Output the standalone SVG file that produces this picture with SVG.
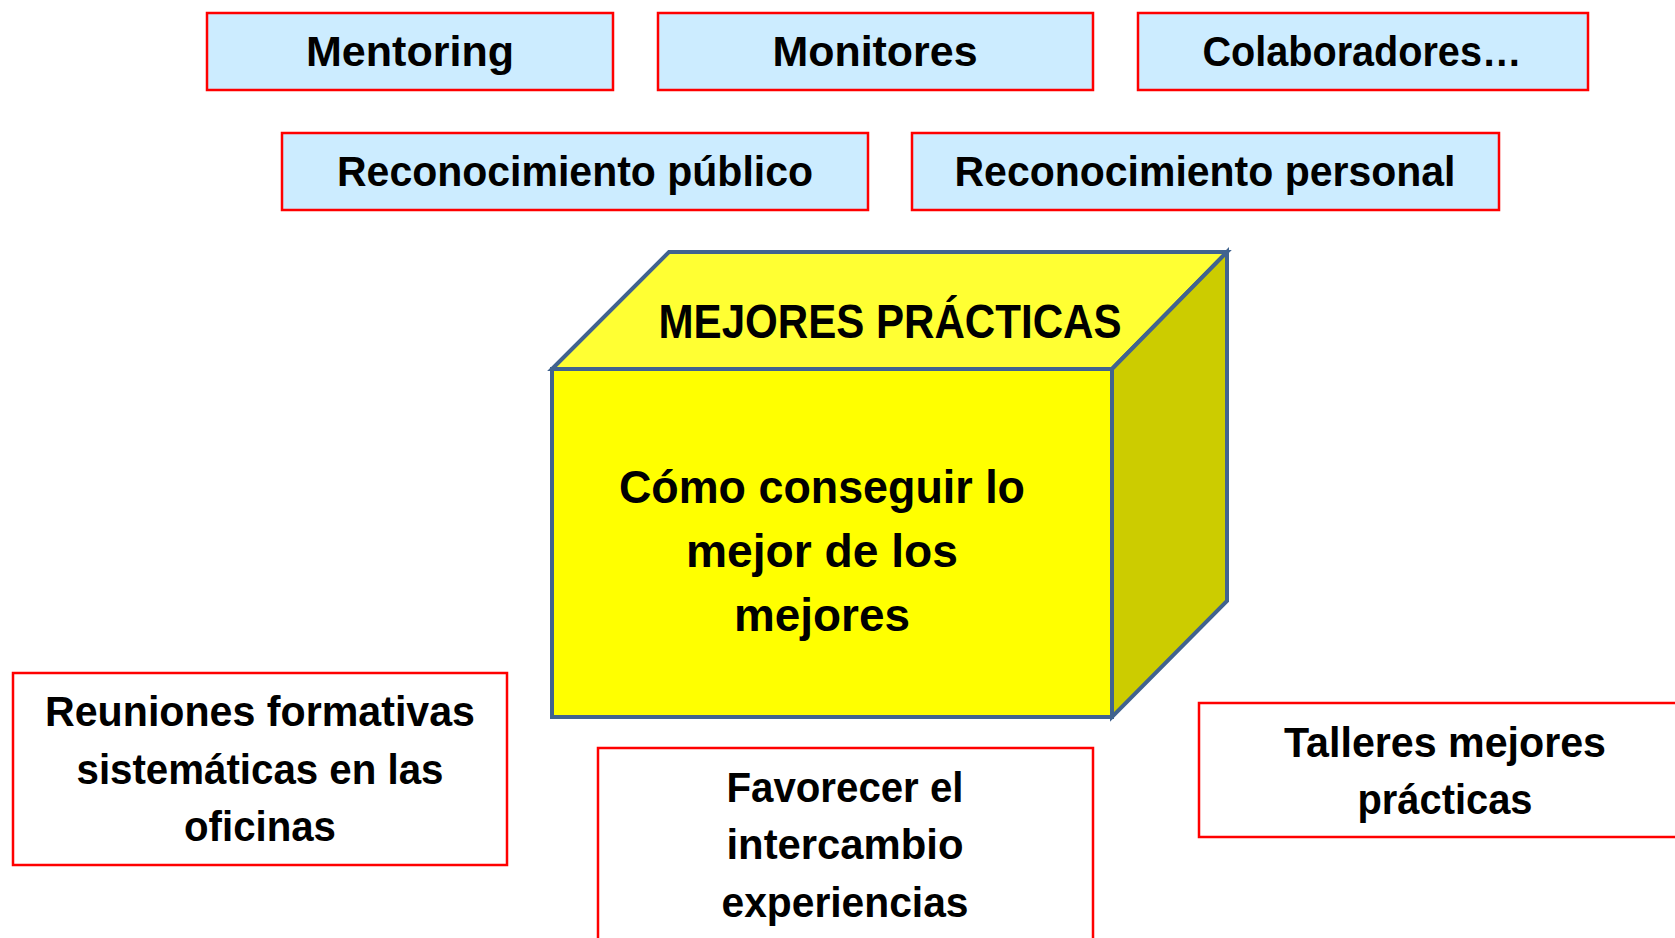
<svg xmlns="http://www.w3.org/2000/svg" width="1675" height="938" viewBox="0 0 1675 938">
<style>
.box{fill:#CCECFF;stroke:#FF0000;stroke-width:2.5}
.wbox{fill:#FFFFFF;stroke:#FF0000;stroke-width:2.5}
.t{font-family:"Liberation Sans",Arial,sans-serif;font-weight:bold;fill:#000;text-anchor:middle}
.s43{font-size:43px}
.cube{stroke:#41638F;stroke-width:4;stroke-linejoin:miter}
</style>
<rect width="1675" height="938" fill="#FFFFFF"/>
<g id="mentoring"><rect class="box" x="207" y="13" width="406" height="77"/><text class="t s43" x="410" y="66" textLength="208" lengthAdjust="spacingAndGlyphs">Mentoring</text></g>
<g id="monitores"><rect class="box" x="658" y="13" width="435" height="77"/><text class="t s43" x="875" y="66" textLength="205" lengthAdjust="spacingAndGlyphs">Monitores</text></g>
<g id="colaboradores"><rect class="box" x="1138" y="13" width="450" height="77"/><text class="t s43" x="1362" y="66" textLength="319" lengthAdjust="spacingAndGlyphs">Colaboradores…</text></g>
<g id="rec-publico"><rect class="box" x="282" y="133" width="586" height="77"/><text class="t s43" x="575" y="186" textLength="476" lengthAdjust="spacingAndGlyphs">Reconocimiento público</text></g>
<g id="rec-personal"><rect class="box" x="912" y="133" width="587" height="77"/><text class="t s43" x="1205" y="186" textLength="501" lengthAdjust="spacingAndGlyphs">Reconocimiento personal</text></g>
<g id="cube">
<polygon class="cube" fill="#FFFF33" points="552,369 669,252 1227,252 1112,369"/>
<polygon class="cube" fill="#CCCC00" points="1112,369 1227,252 1227,601 1112,717"/>
<rect class="cube" fill="#FFFF00" x="552" y="369" width="560" height="348"/>
<text class="t" font-size="48" x="890" y="338" textLength="463" lengthAdjust="spacingAndGlyphs">MEJORES PRÁCTICAS</text>
<text class="t" font-size="46" x="822" y="503" textLength="406" lengthAdjust="spacingAndGlyphs">Cómo conseguir lo</text>
<text class="t" font-size="46" x="822" y="567" textLength="272" lengthAdjust="spacingAndGlyphs">mejor de los</text>
<text class="t" font-size="46" x="822" y="631" textLength="176" lengthAdjust="spacingAndGlyphs">mejores</text>
</g>
<g id="reuniones"><rect class="wbox" x="13" y="673" width="494" height="192"/>
<text class="t s43" x="260" y="726" textLength="430" lengthAdjust="spacingAndGlyphs">Reuniones formativas</text>
<text class="t s43" x="260" y="784" textLength="367" lengthAdjust="spacingAndGlyphs">sistemáticas en las</text>
<text class="t s43" x="260" y="841" textLength="152" lengthAdjust="spacingAndGlyphs">oficinas</text></g>
<g id="favorecer"><rect class="wbox" x="598" y="748" width="495" height="200"/>
<text class="t s43" x="845" y="802" textLength="237" lengthAdjust="spacingAndGlyphs">Favorecer el</text>
<text class="t s43" x="845" y="859" textLength="237" lengthAdjust="spacingAndGlyphs">intercambio</text>
<text class="t s43" x="845" y="917" textLength="247" lengthAdjust="spacingAndGlyphs">experiencias</text></g>
<g id="talleres"><rect class="wbox" x="1199" y="703" width="490" height="134"/>
<text class="t s43" x="1445" y="757" textLength="322" lengthAdjust="spacingAndGlyphs">Talleres mejores</text>
<text class="t s43" x="1445" y="814" textLength="175" lengthAdjust="spacingAndGlyphs">prácticas</text></g>
<g id="connectors"></g>
</svg>
